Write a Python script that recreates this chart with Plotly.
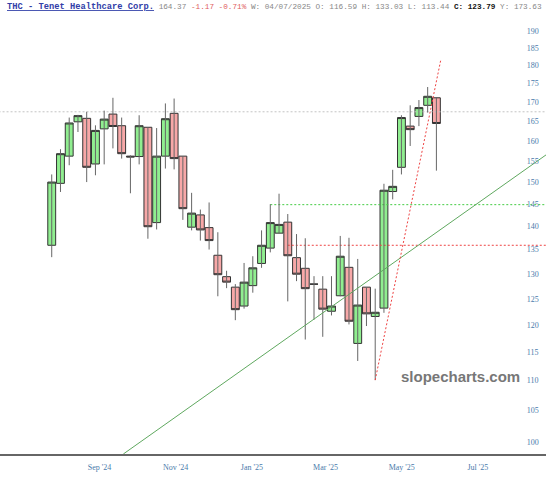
import math
import plotly.graph_objects as go

# ---- data (weekly candles, THC) ----
week_starts = [
    "2024-08-05", "2024-08-12", "2024-08-19", "2024-08-26", "2024-09-02", "2024-09-09",
    "2024-09-16", "2024-09-23", "2024-09-30", "2024-10-07", "2024-10-14", "2024-10-21",
    "2024-10-28", "2024-11-04", "2024-11-11", "2024-11-18", "2024-11-25", "2024-12-02",
    "2024-12-09", "2024-12-16", "2024-12-23", "2024-12-30", "2025-01-06", "2025-01-13",
    "2025-01-20", "2025-01-27", "2025-02-03", "2025-02-10", "2025-02-17", "2025-02-24",
    "2025-03-03", "2025-03-10", "2025-03-17", "2025-03-24", "2025-03-31", "2025-04-07",
    "2025-04-14", "2025-04-21", "2025-04-28", "2025-05-05", "2025-05-12", "2025-05-19",
    "2025-05-26", "2025-06-02", "2025-06-09",
]
opens = [135.9, 149.7, 156.2, 164.8, 165.7, 154.3, 163.0, 166.8, 163.8, 156.2, 156.1, 163.4,
         140.8, 156.2, 167.0, 156.2, 139.8, 142.5, 139.7, 133.8, 129.4, 127.3, 123.6, 127.6,
         132.1, 135.3, 138.5, 140.9, 133.3, 131.1, 127.9, 126.9, 122.6, 125.6, 131.3, 116.59,
         127.3, 121.6, 123.2, 147.8, 153.5, 163.7, 166.2, 169.1, 171.1]
highs = [151.8, 157.9, 165.9, 166.6, 167.4, 163.9, 167.7, 171.1, 165.9, 156.4, 166.5, 163.4,
         163.2, 169.6, 170.9, 156.2, 147.5, 143.7, 145.3, 138.7, 130.6, 127.9, 132.2, 133.6,
         139.1, 144.9, 147.3, 142.7, 138.3, 137.4, 129.5, 129.5, 129.5, 137.9, 137.5, 133.03,
         127.3, 127.0, 149.6, 152.9, 166.5, 169.1, 170.5, 174.0, 171.3]
lows = [133.4, 147.7, 154.0, 162.2, 150.0, 151.6, 154.2, 158.1, 155.6, 147.4, 154.2, 137.3,
        139.3, 153.2, 153.0, 141.4, 139.1, 136.9, 135.0, 125.5, 127.1, 120.9, 123.1, 126.2,
        131.2, 134.4, 138.5, 124.5, 128.5, 117.3, 121.0, 117.8, 121.8, 125.5, 120.1, 113.44,
        119.8, 110.1, 122.3, 146.0, 151.8, 158.7, 163.7, 167.2, 152.7]
closes = [150.0, 156.8, 164.5, 166.4, 153.5, 162.6, 165.5, 163.6, 156.8, 156.0, 163.8, 139.9,
          156.2, 165.6, 155.6, 143.9, 142.9, 139.2, 136.9, 129.8, 128.3, 122.9, 128.3, 131.2,
          135.9, 140.8, 140.4, 133.7, 129.9, 127.0, 127.9, 123.0, 123.6, 133.6, 120.7, 123.79,
          122.1, 122.4, 148.1, 149.0, 165.9, 162.8, 168.5, 171.5, 164.37]

y_tick_values = [100, 105, 110, 115, 120, 125, 130, 135, 140, 145, 150, 155, 160, 165, 170, 175, 180, 185, 190]
month_ticks = ["2024-09-01", "2024-11-01", "2025-01-01", "2025-03-01", "2025-05-01", "2025-07-01"]
month_labels = ["Sep '24", "Nov '24", "Jan '25", "Mar '25", "May '25", "Jul '25"]

# drawn levels / trendlines
grey_level = 167.4
green_level = 144.8
green_level_start = "2025-01-27"
red_level = 135.9
red_level_start = "2025-02-10"
level_end = "2025-10-01"
trend_up_x = ["2024-10-01 08:00", "2025-09-04 18:00"]
trend_up_y = [98.1, 156.5]
trend_steep_x = ["2025-04-21", "2025-06-12 16:00"]
trend_steep_y = [110.1, 181.8]

x_range = ["2024-06-24 14:00", "2025-09-04 18:00"]
y_range_vals = [98.1, 193.2]

# ---- figure ----
fig = go.Figure()
fine_dot = "2px,2px"

# horizontal levels
fig.add_trace(go.Scatter(x=["2024-06-01", level_end], y=[grey_level, grey_level], mode="lines",
                         line=dict(color="#c4c4c4", width=1, dash=fine_dot), hoverinfo="skip"))
fig.add_trace(go.Scatter(x=[green_level_start, level_end], y=[green_level, green_level], mode="lines",
                         line=dict(color="#44cc44", width=1, dash=fine_dot), hoverinfo="skip"))
fig.add_trace(go.Scatter(x=[red_level_start, level_end], y=[red_level, red_level], mode="lines",
                         line=dict(color="#ee4444", width=1, dash=fine_dot), hoverinfo="skip"))

# wicks
wx, wy = [], []
for d, lo, hi in zip(week_starts, lows, highs):
    wx += [d, d, None]
    wy += [lo, hi, None]
fig.add_trace(go.Scatter(x=wx, y=wy, mode="lines", line=dict(color="#666666", width=1),
                         hoverinfo="skip"))

# bodies
fig.add_trace(go.Candlestick(
    x=week_starts, open=opens, close=closes,
    high=[max(o, c) for o, c in zip(opens, closes)],
    low=[min(o, c) for o, c in zip(opens, closes)],
    increasing=dict(fillcolor="#90EE90", line=dict(color="#333333", width=1)),
    decreasing=dict(fillcolor="#F7A8A8", line=dict(color="#333333", width=1)),
    whiskerwidth=0, hoverinfo="skip",
))

# trendlines
fig.add_trace(go.Scatter(x=trend_up_x, y=trend_up_y, mode="lines",
                         line=dict(color="#5fa85f", width=1), hoverinfo="skip"))
fig.add_trace(go.Scatter(x=trend_steep_x, y=trend_steep_y, mode="lines",
                         line=dict(color="#ee4444", width=1, dash=fine_dot), hoverinfo="skip"))

tick_font = dict(family="Liberation Serif", size=8, color="#4a7bab")

fig.update_layout(
    width=546, height=480,
    margin=dict(l=0, r=0, t=20, b=26),
    paper_bgcolor="white", plot_bgcolor="white",
    showlegend=False, boxgap=0.1, boxgroupgap=0,
    xaxis=dict(
        type="date", range=x_range, rangeslider=dict(visible=False),
        showgrid=False, zeroline=False, showline=True, linecolor="#666666", linewidth=1.5,
        tickvals=month_ticks, ticktext=month_labels, ticks="",
        tickfont=tick_font, ticklabelshift=14, ticklabelstandoff=5,
    ),
    yaxis=dict(
        type="log", range=[math.log10(v) for v in y_range_vals], side="right",
        anchor="free", position=0.963,
        tickvals=y_tick_values, ticktext=[str(v) for v in y_tick_values],
        showgrid=False, zeroline=False, showline=False, ticks="",
        tickfont=tick_font,
    ),
)

header = (
    '<b><span style="color:#3240a8;font-size:8.75px"><u>THC - Tenet Healthcare Corp.</u></span></b>'
    ' 164.37 <span style="color:#e06060">-1.17 -0.71%</span>'
    ' W: 04/07/2025 O: 116.59 H: 133.03 L: 113.44'
    ' <b><span style="color:#111111">C: 123.79</span></b> Y: 173.63'
)
fig.add_annotation(text=header, xref="paper", yref="paper", x=0.009, y=1.03,
                   xanchor="left", yanchor="middle", showarrow=False,
                   font=dict(family="Liberation Mono", size=7.7, color="#888888"))

fig.add_annotation(text="<b>slopecharts.com</b>", xref="paper", yref="paper", x=0.8425, y=0.1797,
                   xanchor="center", yanchor="middle", showarrow=False,
                   font=dict(family="Liberation Sans", size=15, color="#777777"))

fig.write_html("out.html", config={"displayModeBar": False},
               post_script="document.body.style.margin='0';")
